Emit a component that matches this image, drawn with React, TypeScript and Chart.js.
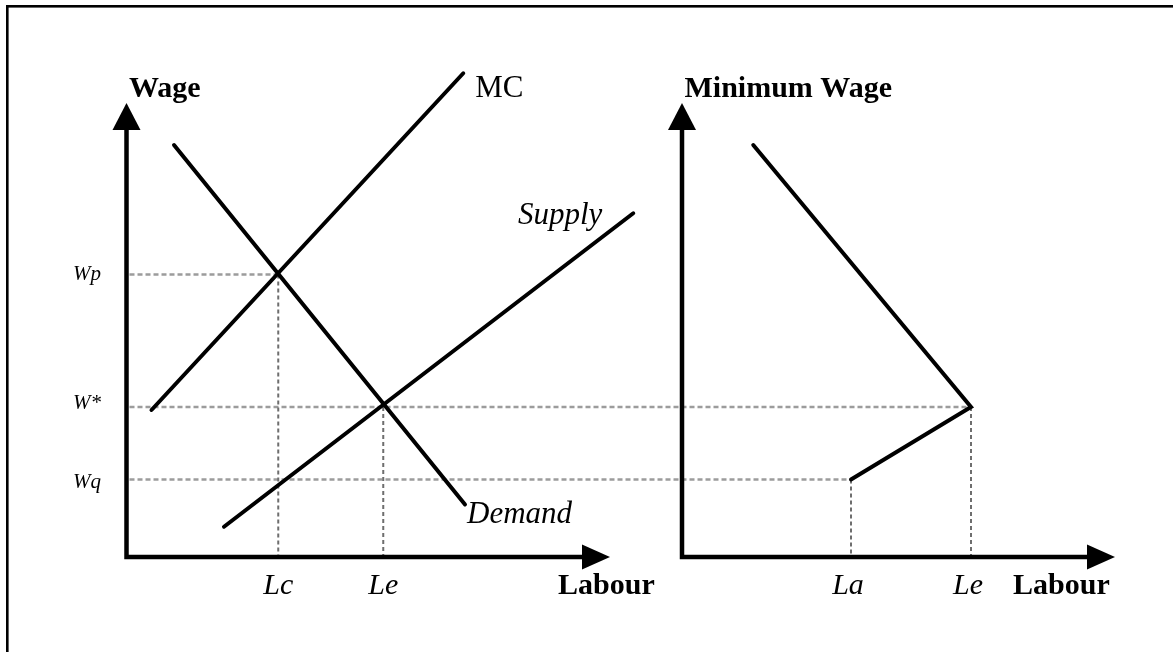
import React, { useEffect, useRef } from "react";
import { Chart, registerables } from "chart.js";

Chart.register(...registerables);

// ---- data (in diagram units) ----
const wageLabels = ["Wp", "W*", "Wq"];
const wageValues = [11.3, 6.0, 3.1];
const leftLabourLabels = ["Lc", "Le"];
const leftLabourValues = [6.07, 10.27];
const rightLabourLabels = ["La", "Le"];
const rightLabourValues = [6.76, 11.56];

const mcX = [1.0, 13.47];
const mcY = [5.88, 19.35];
const demandX = [1.9, 13.54];
const demandY = [16.48, 2.1];
const supplyX = [3.9, 20.27];
const supplyY = [1.21, 13.75];
const minWageX = [2.85, 11.56, 6.76];
const minWageY = [16.48, 6.0, 3.1];

const leftLabourAxisEnd = 19.34;
const rightLabourAxisEnd = 17.32;
const wageAxisEnd = 18.16;

const axisTitles = ["Wage", "Minimum Wage"];
const labourTitle = "Labour";
const curveNames = ["MC", "Supply", "Demand"];

// ---- view / style ----
const W = 1173;
const H = 652;
const UNIT = 25;
const LEFT_ORIGIN_PX = 126.5;
const RIGHT_ORIGIN_PX = 682;
const ORIGIN_PY = 557;
const SERIF = '"Liberation Serif", "Times New Roman", Times, serif';

const pts = (xs: number[], ys: number[]) => xs.map((x, i) => ({ x, y: ys[i] }));

export default function App() {
  const ref = useRef<HTMLCanvasElement | null>(null);

  useEffect(() => {
    if (!ref.current) return;
    document.body.style.margin = "0";

    const plugin = {
      id: "econDiagram",
      beforeDatasetsDraw(chart: any) {
        const { ctx } = chart;
        const xL = chart.scales.xL;
        const xR = chart.scales.xR;
        const y = chart.scales.y;
        ctx.save();
        // frame (top + left edges)
        ctx.fillStyle = "#000";
        ctx.fillRect(6, 5, 2.6, chart.height);
        ctx.fillRect(6, 5, chart.width, 2.6);

        // horizontal guides
        const hEnds: [any, number][] = [
          [xL, leftLabourValues[0]],
          [xR, rightLabourValues[1]],
          [xR, rightLabourValues[0]],
        ];
        ctx.strokeStyle = "#9c9c9c";
        ctx.lineWidth = 2.4;
        ctx.setLineDash([5, 3]);
        wageValues.forEach((w, i) => {
          const py = y.getPixelForValue(w);
          ctx.beginPath();
          ctx.moveTo(xL.getPixelForValue(0) + 3, py);
          ctx.lineTo(hEnds[i][0].getPixelForValue(hEnds[i][1]), py);
          ctx.stroke();
        });

        // vertical guides
        const vGuides: [any, number, number][] = [
          [xL, leftLabourValues[0], wageValues[0]],
          [xL, leftLabourValues[1], wageValues[1]],
          [xR, rightLabourValues[0], wageValues[2]],
          [xR, rightLabourValues[1], wageValues[1]],
        ];
        ctx.strokeStyle = "#6e6e6e";
        ctx.lineWidth = 2;
        ctx.setLineDash([4, 3]);
        vGuides.forEach(([s, l, w]) => {
          const px = s.getPixelForValue(l);
          ctx.beginPath();
          ctx.moveTo(px, y.getPixelForValue(w));
          ctx.lineTo(px, y.getPixelForValue(0));
          ctx.stroke();
        });
        ctx.restore();
      },
      afterDatasetsDraw(chart: any) {
        const { ctx } = chart;
        const xL = chart.scales.xL;
        const xR = chart.scales.xR;
        const y = chart.scales.y;
        ctx.save();
        ctx.fillStyle = "#000";
        ctx.strokeStyle = "#000";
        ctx.setLineDash([]);

        const oy = y.getPixelForValue(0);
        const ytip = y.getPixelForValue(wageAxisEnd);
        const panels: [any, number][] = [
          [xL, leftLabourAxisEnd],
          [xR, rightLabourAxisEnd],
        ];
        panels.forEach(([s, end], pi) => {
          const ox = s.getPixelForValue(0);
          const xtip = s.getPixelForValue(end);
          ctx.lineWidth = 4.5;
          ctx.lineCap = "butt";
          ctx.beginPath();
          ctx.moveTo(ox, oy + 2.2);
          ctx.lineTo(ox, ytip + 25);
          ctx.moveTo(ox - 2.2, oy);
          ctx.lineTo(xtip - 25, oy);
          ctx.stroke();
          // y arrow
          ctx.beginPath();
          ctx.moveTo(ox, ytip);
          ctx.lineTo(ox - 14, ytip + 27);
          ctx.lineTo(ox + 14, ytip + 27);
          ctx.closePath();
          ctx.fill();
          // x arrow
          ctx.beginPath();
          ctx.moveTo(xtip, oy);
          ctx.lineTo(xtip - 28, oy - 12.5);
          ctx.lineTo(xtip - 28, oy + 12.5);
          ctx.closePath();
          ctx.fill();
          // axis title
          ctx.font = `bold 30px ${SERIF}`;
          ctx.textAlign = "left";
          ctx.textBaseline = "alphabetic";
          ctx.fillText(axisTitles[pi], ox + 2.5, ytip - 6);
          // labour title
          const labourOffsets = [431.5, 331];
          ctx.fillText(labourTitle, ox + labourOffsets[pi], oy + 37);
        });

        // wage labels
        ctx.font = `italic 21px ${SERIF}`;
        ctx.textAlign = "left";
        const wageLabelShift = [5.3, 1.6, 8.3];
        wageValues.forEach((w, i) => {
          ctx.fillText(wageLabels[i], xL.getPixelForValue(0) - 53.5, y.getPixelForValue(w) + wageLabelShift[i]);
        });

        // labour labels
        ctx.font = `italic 30px ${SERIF}`;
        ctx.textAlign = "center";
        leftLabourValues.forEach((l, i) => {
          ctx.fillText(leftLabourLabels[i], xL.getPixelForValue(l), oy + 37);
        });
        rightLabourValues.forEach((l, i) => {
          ctx.fillText(rightLabourLabels[i], xR.getPixelForValue(l) - 3, oy + 37);
        });

        // curve labels
        ctx.textAlign = "left";
        ctx.font = `31px ${SERIF}`;
        ctx.fillText(curveNames[0], xL.getPixelForValue(mcX[1]) + 12, y.getPixelForValue(mcY[1]) + 24);
        ctx.font = `italic 31px ${SERIF}`;
        ctx.textAlign = "right";
        ctx.fillText(curveNames[1], xL.getPixelForValue(supplyX[1]) - 31, y.getPixelForValue(supplyY[1]) + 11);
        ctx.textAlign = "left";
        ctx.fillText(curveNames[2], xL.getPixelForValue(demandX[1]) + 2, y.getPixelForValue(demandY[1]) + 18);
        ctx.restore();
      },
    };

    const lineStyle = {
      borderColor: "#000",
      borderWidth: 4,
      pointRadius: 0,
      fill: false,
      tension: 0,
      clip: false as any,
      borderCapStyle: "round" as const,
      borderJoinStyle: "miter" as const,
      yAxisID: "y",
    };

    const chart = new Chart(ref.current, {
      type: "line",
      data: {
        datasets: [
          { ...lineStyle, label: "MC", data: pts(mcX, mcY), xAxisID: "xL" },
          { ...lineStyle, label: "Demand", data: pts(demandX, demandY), xAxisID: "xL" },
          { ...lineStyle, label: "Supply", data: pts(supplyX, supplyY), xAxisID: "xL" },
          { ...lineStyle, label: "Minimum Wage", data: pts(minWageX, minWageY), xAxisID: "xR" },
        ] as any,
      },
      options: {
        animation: false,
        responsive: false,
        devicePixelRatio: 1,
        events: [],
        layout: { padding: 0 },
        plugins: { legend: { display: false }, tooltip: { enabled: false }, title: { display: false } },
        scales: {
          xL: {
            type: "linear",
            axis: "x",
            position: "bottom",
            display: false,
            min: -LEFT_ORIGIN_PX / UNIT,
            max: (W - LEFT_ORIGIN_PX) / UNIT,
          },
          xR: {
            type: "linear",
            axis: "x",
            position: "bottom",
            display: false,
            min: -RIGHT_ORIGIN_PX / UNIT,
            max: (W - RIGHT_ORIGIN_PX) / UNIT,
          },
          y: {
            type: "linear",
            display: false,
            min: -(H - ORIGIN_PY) / UNIT,
            max: ORIGIN_PY / UNIT,
          },
        } as any,
      },
      plugins: [plugin],
    });
    return () => chart.destroy();
  }, []);

  return (
    <div style={{ position: "fixed", left: 0, top: 0, width: W, height: H, background: "#fff" }}>
      <canvas ref={ref} width={W} height={H} style={{ display: "block", width: W, height: H }} />
    </div>
  );
}
